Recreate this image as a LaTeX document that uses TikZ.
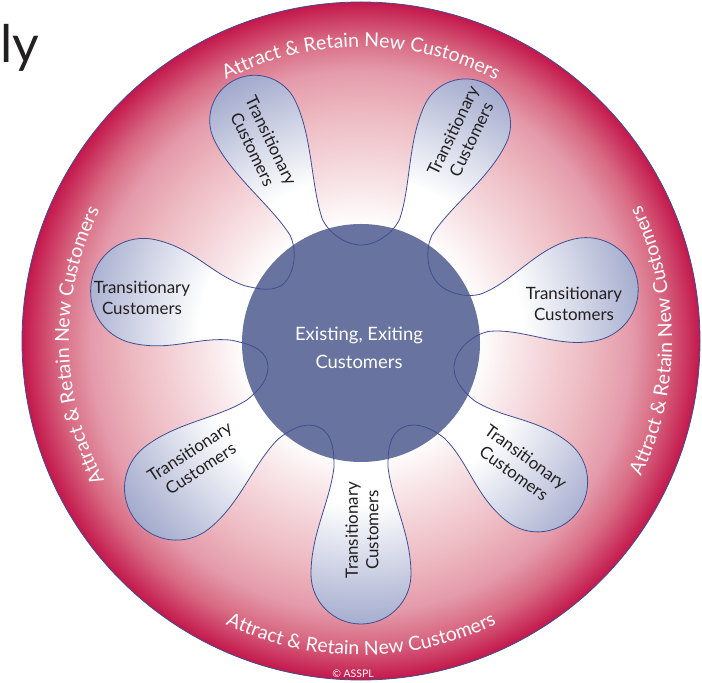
\documentclass[tikz,border=0pt]{standalone}
\usepackage{fontspec}
\setmainfont{Lato}
\usepackage{xcolor}
\definecolor{ringred}{HTML}{C3174B}
\definecolor{ringrose}{HTML}{D86A83}
\definecolor{ringpink}{HTML}{E49AAA}
\definecolor{ringblush}{HTML}{EDB8C0}
\definecolor{ringpale}{HTML}{F7E1E4}
\definecolor{petalblue}{HTML}{9FA7CB}
\definecolor{petalline}{HTML}{3F4E92}
\definecolor{corefill}{HTML}{68749F}
\definecolor{inktext}{HTML}{231F20}
\usepackage{tikz}
\usetikzlibrary{decorations.text}
\newcommand{\petalfont}{\fontsize{17}{20.5}\selectfont}
\newcommand{\corefont}{\fontsize{18.5}{28}\selectfont}
\newcommand{\ringfont}{\fontsize{19.5}{20}\selectfont}
\newcommand{\flowerpath}{(-115.714:96)
  \foreach \pa/\pn/\pw/\pl in {-90/27/50/283, -38.571/24/50/276, 12.857/19/52/283,
      64.286/18/45/286, 115.714/18/45/290, 167.143/28/53/276, 218.571/25/52/288} {
    .. controls ([rotate=\pa]93.4,-27.2) and ([rotate=\pa]112,-\pn) .. ([rotate=\pa]126,-\pn)
    .. controls ([rotate=\pa]161,-\pn-4) and ([rotate=\pa]\pl-\pw-40,-\pw) .. ([rotate=\pa]\pl-\pw,-\pw)
    .. controls ([rotate=\pa]\pl-0.448*\pw,-\pw) and ([rotate=\pa]\pl,-0.552*\pw) .. ([rotate=\pa]\pl,0)
    .. controls ([rotate=\pa]\pl,0.552*\pw) and ([rotate=\pa]\pl-0.448*\pw,\pw) .. ([rotate=\pa]\pl-\pw,\pw)
    .. controls ([rotate=\pa]\pl-\pw-40,\pw) and ([rotate=\pa]161,\pn+4) .. ([rotate=\pa]126,\pn)
    .. controls ([rotate=\pa]112,\pn) and ([rotate=\pa]93.4,27.2) .. ([rotate=\pa]86.5,41.65)
  } -- cycle}
\pgfdeclareradialshading{ringfade}{\pgfpoint{0bp}{0bp}}{color(0bp)=(white); color(8.5bp)=(white);
  color(12bp)=(ringpale); color(17bp)=(ringblush); color(20bp)=(ringpink); color(22.3bp)=(ringrose);
  color(25bp)=(ringred); color(50bp)=(ringred)}
\pgfdeclareradialshading{petalfade}{\pgfpoint{0bp}{0bp}}{color(0bp)=(white); color(14bp)=(white);
  color(25bp)=(petalblue); color(50bp)=(petalblue)}

\begin{document}
\begin{tikzpicture}[x=1bp, y=1bp,
    petaltext/.style={align=center, text=inktext, font=\petalfont, inner sep=0pt},
    ringtext/.style={decorate, decoration={text along path, text align=center, text color=white,
        text={|\ringfont|Attract {\&} Retain New Customers}}},
    coredisc/.style={circle, fill=corefill, minimum size=238bp, inner sep=0pt},
    coretext/.style={align=center, text=white, font=\corefont, inner sep=0pt}]

    \useasboundingbox (-361,-342) rectangle (341,341);

    \shade [shading=ringfade] (0,0) circle (339);
    \draw [petalline, line width=0.8] (0,0) circle (339);

    \begin{scope}
      \clip \flowerpath;
      \shade [shading=petalfade] (0,0) circle (292);
    \end{scope}

    \node [coredisc] (core) at (0,-2) {};
    \node [coretext] (corelabel) at (-2,-7) {Existing, Exiting\\Customers};
    \draw [petalline, line width=0.8] \flowerpath;

    \node [petaltext, rotate=-64.3] (petal1) at (-99,196) {Transitionary\\Customers};
    \node [petaltext, rotate=64.3] (petal2) at (101,206) {Transitionary\\Customers};
    \node [petaltext] (petal3) at (213,37) {Transitionary\\Customers};
    \node [petaltext, rotate=-36] (petal4) at (159,-124) {Transitionary\\Customers};
    \node [petaltext, rotate=90] (petal5) at (1,-189) {Transitionary\\Customers};
    \node [petaltext, rotate=33] (petal6) at (-166,-119) {Transitionary\\Customers};
    \node [petaltext] (petal7) at (-219,43) {Transitionary\\Customers};

    \path [ringtext] (151:294) arc [start angle=151, end angle=29, radius=294];
    \path [ringtext] (241:292) arc [start angle=241, end angle=121, radius=292];
    \path [ringtext] (-62:311) arc [start angle=-62, end angle=62, radius=311];
    \path [ringtext] (208:314) arc [start angle=208, end angle=332, radius=314];

    \node [text=white, font=\fontsize{10.5}{11}\selectfont, inner sep=0pt] (mark) at (-8,-333) {© ASSPL};
    \node [anchor=base west, text=inktext, font=\fontsize{52}{52}\selectfont, inner sep=0pt] (title) at (-361,278) {ly};

\end{tikzpicture}
\end{document}
